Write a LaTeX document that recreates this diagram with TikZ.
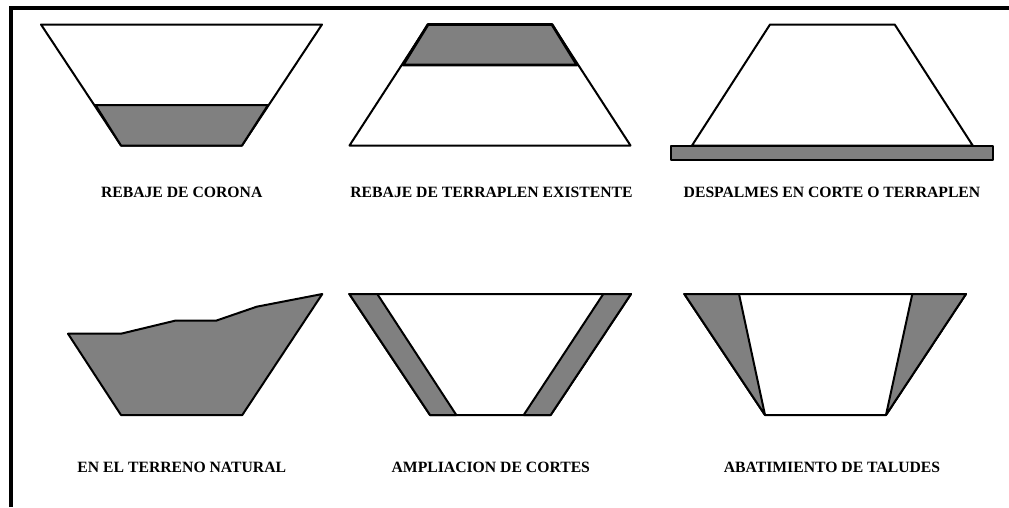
\documentclass[tikz,border=0pt]{standalone}
\usepackage{fontspec}
\setmainfont{Liberation Serif}
\definecolor{fillgray}{RGB}{128,128,128}
\tikzset{
  section/.style={draw=black,line width=2pt,line join=round,fill=white},
  cutfill/.style={draw=black,line width=2pt,line join=round,fill=fillgray},
  caption/.style={font=\fontsize{15.7}{18}\selectfont\bfseries,text=black,inner sep=0pt,anchor=center},
  frameline/.style={draw=black,line width=4pt,line cap=butt}
}
\begin{document}
\begin{tikzpicture}[x=1pt,y=-1pt]
\useasboundingbox (0,0) rectangle (1009,507);
% frame
\coordinate (fa) at (10.5,507);
\coordinate (fb) at (10.5,8);
\coordinate (fc) at (1009,8);
\draw[frameline,line join=miter] (fa) -- (fb) -- (fc);
% 1
\draw[section] (41,24.5) -- (322,24.5) -- (242,145.5) -- (121,145.5) -- cycle;
\draw[cutfill] (95.5,105) -- (268,105) -- (242,145.5) -- (121,145.5) -- cycle;
\node[caption] (c1) at (181.7,192) {REBAJE DE CORONA};
% 2
\draw[section] (428,24.5) -- (552,24.5) -- (630.5,145.5) -- (349.5,145.5) -- cycle;
\draw[cutfill,line width=2.8pt] (428,24.5) -- (552,24.5) -- (577,65) -- (403,65) -- cycle;
\node[caption] (c2) at (491.5,192) {REBAJE DE TERRAPLEN EXISTENTE};
% 3
\draw[section] (770,24.5) -- (894.7,24.5) -- (972.7,145.5) -- (692,145.5) -- cycle;
\draw[cutfill] (670.7,145.5) rectangle (993,159.5);
\node[caption] (c3) at (832,192) {DESPALMES EN CORTE O TERRAPLEN};
% 4
\draw[cutfill] (68,333.7) -- (121,333.7) -- (175,320.7) -- (216,320.7) -- (256.7,306.7) -- (322.3,294) -- (242.3,415) -- (121,415) -- cycle;
\node[caption] (c4) at (181.8,467.7) {EN EL TERRENO NATURAL};
% 5
\draw[section] (349.3,294) -- (631,294) -- (550.7,415) -- (430,415) -- cycle;
\draw[cutfill] (349.3,294) -- (377.3,294) -- (456.3,415) -- (430,415) -- cycle;
\draw[cutfill] (603.3,294) -- (631,294) -- (550.7,415) -- (523.7,415) -- cycle;
\node[caption] (c5) at (490.8,467.7) {AMPLIACION DE CORTES};
% 6
\draw[section] (684.3,294) -- (966,294) -- (886,415) -- (765,415) -- cycle;
\draw[cutfill] (684.3,294) -- (739,294) -- (765,415) -- cycle;
\draw[cutfill] (912.3,294) -- (966,294) -- (886,415) -- cycle;
\node[caption] (c6) at (832,467.7) {ABATIMIENTO DE TALUDES};
\end{tikzpicture}
\end{document}
